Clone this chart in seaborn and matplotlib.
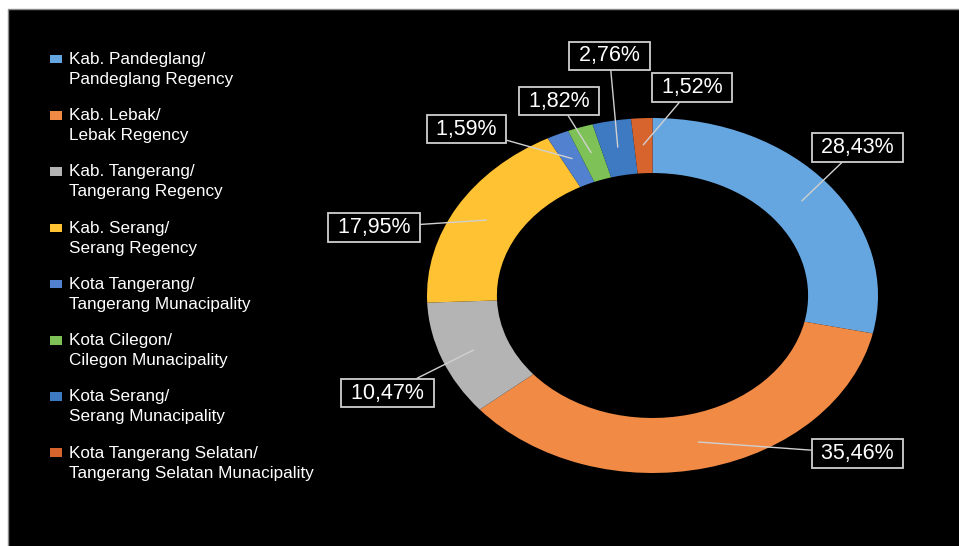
import numpy as np
import matplotlib
matplotlib.use("Agg")
import matplotlib.pyplot as plt
import seaborn as sns
from matplotlib.patches import Rectangle, Wedge
from matplotlib.legend_handler import HandlerPatch

# ---------------- data ----------------
regions = [
    "Kab. Pandeglang/\nPandeglang Regency",
    "Kab. Lebak/\nLebak Regency",
    "Kab. Tangerang/\nTangerang Regency",
    "Kab. Serang/\nSerang Regency",
    "Kota Tangerang/\nTangerang Munacipality",
    "Kota Cilegon/\nCilegon Munacipality",
    "Kota Serang/\nSerang Munacipality",
    "Kota Tangerang Selatan/\nTangerang Selatan Munacipality",
]
shares = [28.43, 35.46, 10.47, 17.95, 1.59, 1.82, 2.76, 1.52]
share_labels = ["28,43%", "35,46%", "10,47%", "17,95%", "1,59%", "1,82%", "2,76%", "1,52%"]
colors = ["#66A6E0", "#F08A45", "#B4B4B4", "#FFC232",
          "#5282CF", "#7EC257", "#3E7AC2", "#D7642C"]

# label box centres (pixels, from top-left) - layout only
label_pos = [(857.5, 147.5), (857.5, 453.5), (387.5, 393), (374, 227.5),
             (466.5, 129), (559, 101), (609.5, 56), (692, 87.5)]

# ---------------- style ----------------
sns.set_theme(style="dark", rc={"axes.facecolor": "black", "figure.facecolor": "white"})
plt.rcParams["font.family"] = ["Liberation Sans", "DejaVu Sans"]

W, H = 959, 546
fig = plt.figure(figsize=(W / 100, H / 100), dpi=100, facecolor="white")


def fx(x):
    return x / W


def fy(y):
    return 1 - y / H


bg = Rectangle((fx(8), -0.01), 1.02 - fx(8), fy(9) + 0.01, transform=fig.transFigure,
               facecolor="black", edgecolor="#8a8a8a", lw=1, zorder=-10)
fig.patches.append(bg)

ax = fig.add_axes([fx(427), fy(473), fx(878) - fx(427), fy(118) - fy(473)])
ax.set_zorder(1)
ax.set_facecolor("none")
palette = sns.color_palette(colors)
wedges, _ = ax.pie(shares, colors=palette, startangle=90, counterclock=False, radius=1,
                   wedgeprops=dict(width=0.31, linewidth=0))
ax.set_aspect("auto")
ax.set_xlim(-1, 1)
ax.set_ylim(-1, 1)
ax.axis("off")

for w, lab, (px, py) in zip(wedges, share_labels, label_pos):
    ang = np.deg2rad((w.theta1 + w.theta2) / 2)
    r = 0.85
    ax.annotate(" " + lab + " ", xy=(r * np.cos(ang), r * np.sin(ang)), xycoords="data",
                xytext=(fx(px), fy(py)), textcoords="figure fraction",
                ha="center", va="center", fontsize=15.5, color="white",
                bbox=dict(boxstyle="square,pad=0.17", fc="black", ec="#d0d0d0", lw=1.3),
                arrowprops=dict(arrowstyle="-", color="#d0d0d0", lw=1.0, shrinkA=0, shrinkB=0),
                annotation_clip=False)


def top_rect(legend, orig_handle, xdescent, ydescent, width, height, fontsize):
    return Rectangle((-xdescent, -ydescent + 0.6 * fontsize), width, height)


leg = ax.legend(wedges, regions, loc="upper left", bbox_to_anchor=(fx(50), fy(52)),
                bbox_transform=fig.transFigure, frameon=False, fontsize=12.3,
                labelcolor="white", handlelength=0.7, handleheight=0.4,
                handletextpad=0.4, labelspacing=1.24, borderpad=0, borderaxespad=0,
                handler_map={Wedge: HandlerPatch(patch_func=top_rect)})
for t in leg.get_texts():
    t.set_linespacing(1.42)

fig.savefig("out.png", dpi=100, facecolor=fig.get_facecolor())
